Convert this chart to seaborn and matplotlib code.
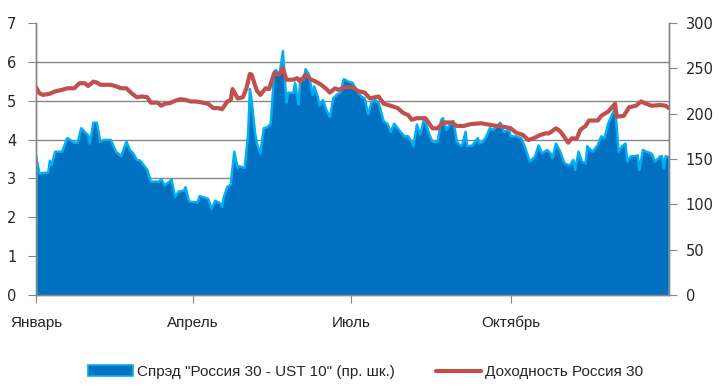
import numpy as np
import pandas as pd
import seaborn as sns
import matplotlib
matplotlib.use('Agg')
import matplotlib.pyplot as plt
from matplotlib.patches import Patch
from matplotlib.lines import Line2D

# spread Russia 30 - UST 10, bp (right scale); x = days since 1 Jan 2010
spread_days = [0, 2, 7, 8, 9, 11, 15, 18, 22, 24, 26, 30, 31, 33, 35, 37, 39, 43, 46, 49,
               51, 52, 54, 56, 58, 60, 64, 66, 71, 72, 74, 78, 80, 82, 85, 86, 88, 93, 94, 96,
               99, 101, 103, 106, 107, 108, 110, 112, 114, 116, 117, 120, 122, 123, 124, 126, 127, 129, 131, 133,
               135, 137, 138, 140, 142, 144, 145, 148, 149, 151, 152, 154, 155, 157, 159, 160, 162, 163, 165, 167,
               169, 171, 173, 175, 177, 178, 180, 182, 185, 187, 189, 191, 193, 195, 197, 200, 202, 204, 206, 208,
               210, 212, 214, 216, 217, 219, 221, 223, 224, 226, 228, 231, 233, 234, 236, 238, 240, 242, 244, 245,
               247, 248, 251, 254, 255, 257, 259, 261, 263, 265, 267, 269, 272, 273, 276, 279, 281, 284, 287, 289,
               291, 294, 296, 297, 299, 301, 304, 307, 309, 310, 312, 314, 316, 317, 320, 323, 325, 327, 329, 332,
               333, 334, 335, 337, 339, 340, 342, 344, 346, 347, 349, 351, 354, 356, 359, 360, 361, 362, 364]
spread_bp = [153, 134, 135, 148, 143, 158, 158, 173, 168, 168, 184, 176, 167, 190, 190, 169, 171, 171, 158, 153,
             164, 169, 160, 156, 149, 148, 138, 125, 125, 128, 121, 127, 108, 114, 115, 119, 103, 102, 109, 108,
             106, 95, 104, 101, 97, 108, 119, 122, 158, 140, 142, 140, 178, 227, 215, 178, 167, 156, 184, 185,
             189, 247, 248, 243, 269, 212, 223, 223, 234, 210, 239, 237, 249, 243, 221, 230, 219, 209, 215, 204,
             196, 217, 221, 223, 238, 237, 235, 234, 224, 219, 217, 199, 213, 215, 212, 191, 189, 180, 189, 184,
             179, 175, 175, 169, 164, 188, 177, 193, 191, 178, 169, 169, 193, 195, 182, 188, 192, 169, 165, 165,
             180, 164, 165, 173, 167, 169, 175, 184, 182, 186, 190, 180, 182, 175, 175, 173, 164, 147, 153, 165,
             156, 160, 156, 151, 167, 160, 145, 143, 149, 138, 158, 147, 145, 164, 158, 165, 175, 173, 189, 202,
             206, 184, 158, 164, 167, 147, 153, 153, 154, 138, 160, 158, 156, 147, 153, 153, 140, 153, 152]

# yield Russia 30, % (left scale)
yield_days = [0, 2, 4, 8, 11, 15, 18, 22, 25, 28, 30, 33, 35, 37, 43, 46, 49, 52, 55, 58,
              61, 64, 66, 70, 72, 74, 77, 79, 83, 86, 89, 92, 96, 99, 102, 105, 107, 110, 112, 113,
              116, 119, 121, 123, 124, 127, 129, 132, 134, 137, 140, 142, 144, 148, 150, 152, 155, 158, 161, 164,
              167, 169, 172, 174, 178, 182, 185, 189, 192, 197, 200, 204, 208, 211, 214, 216, 219, 224, 228, 231,
              234, 239, 242, 246, 250, 256, 261, 265, 269, 273, 276, 280, 283, 286, 290, 293, 295, 299, 301, 303,
              306, 308, 311, 313, 316, 318, 323, 325, 329, 333, 334, 338, 341, 345, 348, 351, 354, 359, 362, 364]
yield_pct = [5.35, 5.19, 5.15, 5.18, 5.24, 5.28, 5.32, 5.32, 5.45, 5.45, 5.38, 5.49, 5.47, 5.41, 5.41, 5.37, 5.32, 5.32, 5.19, 5.09,
             5.11, 5.09, 4.95, 4.95, 4.87, 4.92, 4.94, 4.98, 5.04, 5.02, 4.98, 4.98, 4.95, 4.92, 4.81, 4.81, 4.78, 4.98, 5.02, 5.30,
             5.06, 5.09, 5.32, 5.69, 5.67, 5.26, 5.15, 5.32, 5.30, 5.71, 5.67, 5.84, 5.54, 5.54, 5.58, 5.49, 5.67, 5.55, 5.49, 5.41,
             5.30, 5.21, 5.32, 5.28, 5.35, 5.35, 5.25, 5.21, 5.06, 5.11, 4.92, 4.87, 4.81, 4.69, 4.63, 4.51, 4.55, 4.55, 4.29, 4.29,
             4.44, 4.44, 4.35, 4.35, 4.40, 4.42, 4.38, 4.35, 4.33, 4.29, 4.18, 4.12, 3.99, 4.03, 4.12, 4.16, 4.16, 4.29, 4.23, 4.12,
             3.92, 4.03, 4.03, 4.25, 4.35, 4.49, 4.49, 4.61, 4.72, 4.92, 4.59, 4.61, 4.83, 4.87, 4.98, 4.92, 4.87, 4.89, 4.87, 4.81]

month_ticks = ['2010-01-01', '2010-04-01', '2010-07-01', '2010-10-01']
month_labels = ['Январь', 'Апрель', 'Июль', 'Октябрь']
legend_labels = ['Спрэд "Россия 30 - UST 10" (пр. шк.)', 'Доходность Россия 30']

start = pd.Timestamp('2010-01-01')
spread_dates = start + pd.to_timedelta(spread_days, unit='D')
yield_dates = start + pd.to_timedelta(yield_days, unit='D')

sns.set_style('white')
plt.rcParams['font.family'] = ['DejaVu Sans']
narrow = ['Liberation Sans', 'DejaVu Sans']
grey = '#868686'
fill_c = '#0070C0'
edge_c = '#00B0F0'
red_c = '#C0504D'

fig = plt.figure(figsize=(7.23, 3.89), dpi=100)
ax = fig.add_axes([36 / 723, 1 - 295 / 389, 633 / 723, 272 / 389])

# area on the right scale
ax.fill_between(spread_dates, spread_bp, color=fill_c, lw=0)
sns.lineplot(x=spread_dates, y=spread_bp, ax=ax, color=edge_c, lw=1.8)
ax.vlines([spread_dates[0], spread_dates[-1]], 0, [spread_bp[0], spread_bp[-1]], color=edge_c, lw=1.8)
ax.set_ylim(0, 300)
ax.set_yticks(np.arange(0, 301, 50))
ax.set_yticks(np.linspace(0, 300, 8), minor=True)
ax.grid(False)
ax.grid(which='minor', axis='y', color=grey, lw=1)
ax.set_axisbelow(True)

# line on the left scale
ax2 = ax.twinx()
sns.lineplot(x=yield_dates, y=yield_pct, ax=ax2, color=red_c, lw=3)
ax2.set_ylim(0, 7)
ax2.set_yticks(range(8))
ax2.grid(False)

ax.yaxis.tick_right()
ax2.yaxis.tick_left()
ax.set_xlim(start, pd.Timestamp('2010-12-31'))
ax.set_xticks(pd.to_datetime(month_ticks))
ax.set_xticklabels(month_labels, family=narrow, fontsize=11)

for a in (ax, ax2):
    a.set_xlabel('')
    a.set_ylabel('')
    a.spines['top'].set_visible(False)
    for s in ('left', 'right', 'bottom'):
        a.spines[s].set_color(grey)
        a.spines[s].set_linewidth(1)

ax.tick_params(axis='x', which='major', direction='out', length=6, color=grey, pad=9, bottom=True)
ax.tick_params(axis='y', which='major', direction='out', length=6, color=grey, pad=6,
               labelsize=10.5, right=True, left=False, labelright=True, labelleft=False)
ax.tick_params(axis='y', which='minor', length=0)
ax2.tick_params(axis='y', direction='out', length=6, color=grey, pad=8,
                labelsize=10.5, left=True, right=False, labelleft=True, labelright=False)

handles = [Patch(facecolor=fill_c, edgecolor=edge_c, lw=1.2),
           Line2D([], [], color=red_c, lw=3)]
fig.legend(handles, legend_labels, loc='center', bbox_to_anchor=(0.506, 1 - 372 / 389),
           ncol=2, frameon=False, prop={'family': narrow, 'size': 11},
           handlelength=2.9, handletextpad=0.3, columnspacing=2.7)

fig.savefig('out.png', dpi=100)
